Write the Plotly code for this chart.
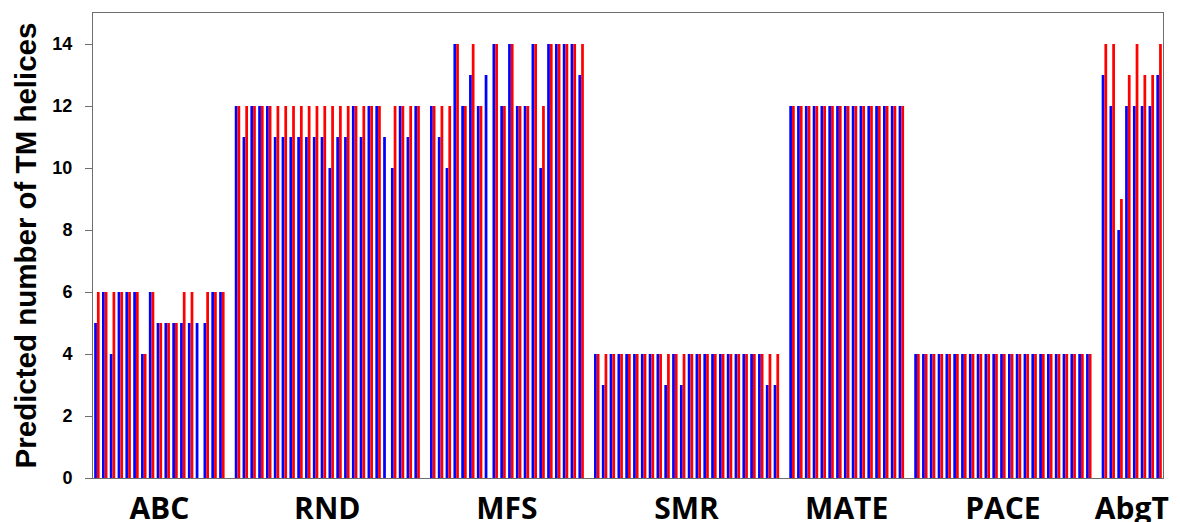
import plotly.graph_objects as go

# ---------------- data ----------------
groups = ["ABC", "RND", "MFS", "SMR", "MATE", "PACE", "AbgT"]

abc_blue = [5, 6, 4, 6, 6, 6, 4, 6, 5, 5, 5, 5, 5, 5, 5, 6, 6]
abc_red = [6, 6, 6, 6, 6, 6, 4, 6, 5, 5, 5, 6, 6, 0, 6, 6, 6]

rnd_blue = [12, 11, 12, 12, 12, 11, 11, 11, 11, 11, 11, 11, 10, 11, 11, 12, 11, 12, 12, 11, 10, 12, 11, 12]
rnd_red = [12, 12, 12, 12, 12, 12, 12, 12, 12, 12, 12, 12, 12, 12, 12, 12, 12, 12, 12, 0, 12, 12, 12, 12]

mfs_blue = [12, 11, 10, 14, 12, 13, 12, 13, 14, 12, 14, 12, 12, 14, 10, 14, 14, 14, 14, 13]
mfs_red = [12, 12, 12, 14, 12, 14, 12, 0, 14, 12, 14, 12, 12, 14, 12, 14, 14, 14, 14, 14]

smr_blue = [4, 3, 4, 4, 4, 4, 4, 4, 4, 3, 4, 3, 4, 4, 4, 4, 4, 4, 4, 4, 4, 4, 3, 3]
smr_red = [4, 4, 4, 4, 4, 4, 4, 4, 4, 4, 4, 4, 4, 4, 4, 4, 4, 4, 4, 4, 4, 4, 4, 4]

mate_blue = [12, 12, 12, 12, 12, 12, 12, 12, 12, 12, 12, 12, 12, 12, 12]
mate_red = [12, 12, 12, 12, 12, 12, 12, 12, 12, 12, 12, 12, 12, 12, 12]

pace_blue = [4] * 23
pace_red = [4] * 23

abgt_blue = [13, 12, 8, 12, 12, 12, 12, 13]
abgt_red = [14, 14, 9, 13, 14, 13, 13, 14]

y_ticks = [0, 2, 4, 6, 8, 10, 12, 14]
y_title = "Predicted number of TM helices"

blue_sets = [abc_blue, rnd_blue, mfs_blue, smr_blue, mate_blue, pace_blue, abgt_blue]
red_sets = [abc_red, rnd_red, mfs_red, smr_red, mate_red, pace_red, abgt_red]

# -------- positions (one empty slot between families) --------
xs, blues, reds, centers = [], [], [], []
pos = 0
for b, r in zip(blue_sets, red_sets):
    n = len(b)
    xs.extend(range(pos, pos + n))
    blues.extend(b)
    reds.extend(r)
    centers.append(pos + (n - 1) / 2)
    pos += n + 1
last = pos - 2

fig = go.Figure()
fig.add_trace(go.Bar(x=xs, y=blues, marker=dict(color="#0000FF", line=dict(width=0)), name="blue"))
fig.add_trace(go.Bar(x=xs, y=reds, marker=dict(color="#FF0000", line=dict(width=0)), name="red"))

axis_col = "#6e6e6e"
fig.update_layout(
    width=1180, height=522,
    margin=dict(l=85, r=25, t=5, b=52, autoexpand=False),
    paper_bgcolor="white", plot_bgcolor="white",
    barmode="group", bargap=0.3, bargroupgap=0,
    showlegend=False,
    xaxis=dict(
        range=[-0.5, last + 0.5], automargin=False,
        tickmode="array", tickvals=centers, ticktext=groups,
        ticks="", showgrid=False, zeroline=False,
        showline=True, mirror=True, linecolor=axis_col, linewidth=1,
        tickfont=dict(family="Open Sans", size=30, color="black", weight="bold"),
        ticklabelstandoff=4,
    ),
    yaxis=dict(
        range=[0, 15], automargin=False,
        tickmode="array", tickvals=y_ticks,
        ticks="outside", ticklen=7, tickcolor=axis_col, tickwidth=1,
        showgrid=False, zeroline=False,
        showline=True, mirror=True, linecolor=axis_col, linewidth=1,
        tickfont=dict(family="Liberation Sans, Arial", size=18, color="black", weight="bold"),
        ticklabelstandoff=9,
        title=dict(text=y_title, standoff=7,
                   font=dict(family="Liberation Sans, Arial", size=29.5, color="black", weight="bold")),
    ),
)

fig.write_html("out.html")
